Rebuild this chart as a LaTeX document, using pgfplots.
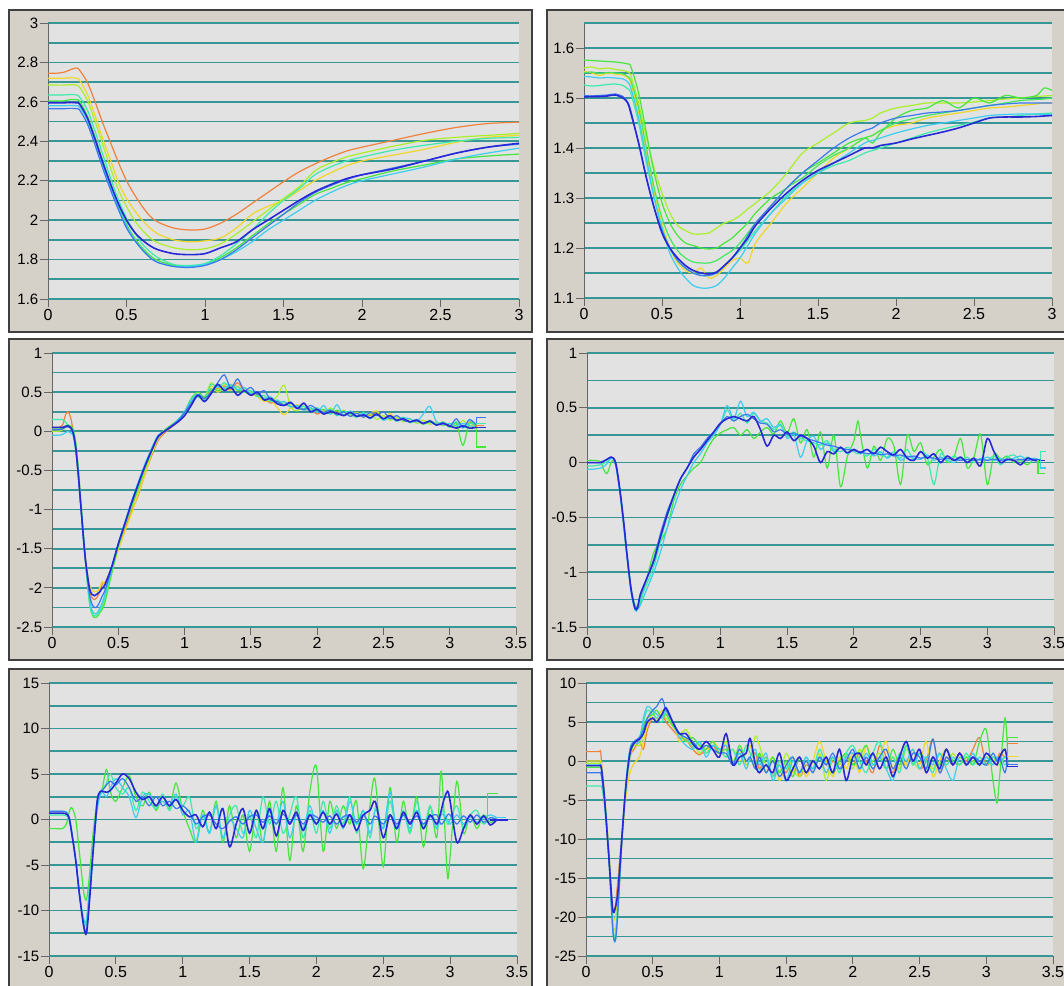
\documentclass[border=0pt]{standalone}
\usepackage{fontspec}
\setmainfont{Liberation Sans}
\usepackage{pgfplots}
\usepackage{pgfplotstable}
\pgfplotsset{compat=1.18}

\definecolor{cor}{RGB}{240,130,60}
\definecolor{cye}{RGB}{240,215,40}
\definecolor{cyg}{RGB}{170,240,40}
\definecolor{cgr}{RGB}{70,230,60}
\definecolor{caq}{RGB}{60,235,170}
\definecolor{ccy}{RGB}{60,205,240}
\definecolor{clb}{RGB}{60,120,240}
\definecolor{cbl}{RGB}{40,40,215}
\definecolor{gridc}{RGB}{55,150,150}
\definecolor{plotbg}{RGB}{226,226,226}
\definecolor{panelbg}{RGB}{213,209,201}

\pgfplotsset{
 panel/.style={
  scale only axis, anchor=south west,
  axis background/.style={fill=plotbg},
  axis x line*=bottom, axis y line*=left,
  axis line style={-},
  x axis line style={draw=gridc, line width=1.6pt},
  y axis line style={draw=black!60, line width=0.8pt},
  ymajorgrids, yminorgrids,
  major grid style={draw=gridc, line width=1.6pt},
  minor grid style={draw=gridc, line width=1.6pt},
  minor y tick num=1,
  tick align=outside,
  major tick length=8pt,
  minor tick length=0pt,
  tick style={draw=black!60, line width=0.8pt},
  yticklabel style={font=\fontsize{15}{15}\selectfont, inner sep=1.5pt},
  xticklabel style={font=\fontsize{16}{16}\selectfont, inner sep=2pt},
  /pgf/number format/assume math mode=true,
  every axis plot/.append style={line width=1.2pt, smooth, tension=0.5, no markers},
 }
}

% ---------- Panel 1 ----------
\pgfplotstableread{
x     or     ye     yg     aq     gr     bl     lb     cy
0     2.745  2.72   2.685  2.635  2.605  2.595  2.565  2.58
0.05  2.745  2.72   2.685  2.635  2.605  2.595  2.565  2.58
0.1   2.75   2.72   2.685  2.635  2.605  2.595  2.565  2.58
0.15  2.765  2.722  2.687  2.637  2.612  2.597  2.567  2.582
0.18  2.772  2.72   2.685  2.635  2.61   2.595  2.565  2.58
0.2   2.762  2.71   2.675  2.625  2.605  2.59   2.56   2.575
0.25  2.70   2.64   2.61   2.56   2.53   2.52   2.49   2.51
0.3   2.60   2.53   2.50   2.45   2.42   2.41   2.38   2.40
0.35  2.49   2.41   2.38   2.33   2.30   2.29   2.26   2.28
0.4   2.39   2.30   2.26   2.21   2.18   2.18   2.15   2.16
0.45  2.29   2.19   2.15   2.10   2.07   2.08   2.05   2.06
0.5   2.20   2.11   2.07   2.01   1.98   2.00   1.96   1.97
0.55  2.13   2.05   2.00   1.94   1.91   1.94   1.90   1.90
0.6   2.07   2.00   1.95   1.88   1.86   1.90   1.85   1.85
0.65  2.02   1.96   1.91   1.84   1.82   1.87   1.81   1.81
0.7   1.99   1.93   1.885  1.81   1.795  1.85   1.785  1.785
0.8   1.96   1.90   1.86   1.775  1.77   1.83   1.765  1.765
0.9   1.95   1.89   1.85   1.77   1.765  1.825  1.76   1.765
1.0   1.955  1.895  1.855  1.78   1.775  1.83   1.77   1.775
1.1   1.985  1.91   1.88   1.82   1.81   1.86   1.80   1.80
1.2   2.03   1.96   1.93   1.88   1.86   1.89   1.85   1.84
1.3   2.085  2.03   1.99   1.95   1.92   1.95   1.91   1.89
1.4   2.14   2.07   2.05   2.03   1.98   2.00   1.97   1.95
1.5   2.195  2.10   2.11   2.10   2.03   2.05   2.03   2.00
1.6   2.245  2.15   2.17   2.16   2.08   2.10   2.09   2.05
1.7   2.285  2.20   2.25   2.23   2.13   2.145  2.14   2.10
1.8   2.32   2.24   2.29   2.27   2.16   2.18   2.175  2.14
1.9   2.35   2.275  2.32   2.30   2.19   2.21   2.205  2.175
2.0   2.37   2.30   2.34   2.32   2.21   2.23   2.23   2.20
2.2   2.405  2.33   2.375  2.355  2.25   2.26   2.265  2.235
2.4   2.44   2.36   2.405  2.38   2.28   2.30   2.30   2.27
2.6   2.47   2.395  2.42   2.40   2.31   2.34   2.34   2.31
2.8   2.49   2.42   2.43   2.415  2.325  2.37   2.37   2.34
3.0   2.497  2.43   2.44   2.42   2.335  2.39   2.385  2.365
}\tabA

% ---------- Panel 2 ----------
\pgfplotstableread{
x     ye     yg     gr     gg     aq     cy     lb     bl
0     1.553  1.56   1.576  1.55   1.526  1.543  1.505  1.502
0.05  1.55   1.562  1.575  1.552  1.524  1.542  1.504  1.503
0.1   1.545  1.558  1.574  1.549  1.525  1.540  1.505  1.503
0.15  1.55   1.56   1.573  1.551  1.527  1.541  1.506  1.504
0.2   1.548  1.557  1.572  1.55   1.528  1.540  1.508  1.506
0.25  1.546  1.555  1.570  1.548  1.525  1.538  1.503  1.50
0.28  1.54   1.552  1.568  1.543  1.518  1.532  1.492  1.49
0.3   1.53   1.545  1.563  1.535  1.51   1.52   1.475  1.47
0.35  1.47   1.49   1.51   1.48   1.45   1.46   1.41   1.41
0.4   1.39   1.42   1.43   1.40   1.37   1.38   1.34   1.34
0.45  1.31   1.36   1.35   1.32   1.30   1.30   1.28   1.28
0.5   1.25   1.31   1.29   1.26   1.24   1.24   1.235  1.23
0.55  1.20   1.27   1.25   1.22   1.20   1.19   1.20   1.20
0.6   1.17   1.245  1.225  1.195  1.175  1.16   1.175  1.18
0.65  1.155  1.235  1.21   1.18   1.16   1.14   1.16   1.165
0.7   1.15   1.228  1.205  1.172  1.15   1.125  1.15   1.155
0.75  1.16   1.228  1.20   1.17   1.145  1.12   1.145  1.15
0.8   1.14   1.23   1.198  1.17   1.145  1.12   1.145  1.148
0.85  1.145  1.24   1.20   1.175  1.15   1.125  1.15   1.152
0.9   1.16   1.25   1.21   1.185  1.165  1.14   1.165  1.165
0.95  1.175  1.255  1.22   1.195  1.18   1.16   1.18   1.18
1.0   1.18   1.265  1.235  1.21   1.195  1.18   1.20   1.20
1.05  1.17   1.278  1.25   1.23   1.215  1.205  1.225  1.22
1.1   1.21   1.29   1.27   1.25   1.235  1.23   1.25   1.245
1.2   1.25   1.315  1.30   1.285  1.27   1.27   1.285  1.28
1.3   1.29   1.35   1.32   1.32   1.305  1.30   1.32   1.31
1.4   1.32   1.39   1.35   1.34   1.33   1.33   1.35   1.335
1.5   1.35   1.41   1.37   1.365  1.35   1.35   1.375  1.355
1.6   1.38   1.43   1.39   1.385  1.365  1.37   1.40   1.37
1.7   1.40   1.45   1.41   1.40   1.375  1.39   1.42   1.385
1.8   1.42   1.455  1.42   1.42   1.39   1.41   1.435  1.40
1.85  1.425  1.46   1.41   1.425  1.395  1.415  1.44   1.40
1.9   1.435  1.47   1.43   1.435  1.40   1.42   1.45   1.405
2.0   1.445  1.48   1.46   1.45   1.41   1.43   1.46   1.41
2.1   1.45   1.485  1.475  1.458  1.42   1.438  1.465  1.418
2.2   1.46   1.49   1.48   1.465  1.43   1.445  1.47   1.425
2.3   1.465  1.49   1.495  1.47   1.438  1.45   1.472  1.432
2.4   1.47   1.49   1.48   1.475  1.445  1.455  1.475  1.44
2.5   1.475  1.492  1.50   1.48   1.452  1.46   1.48   1.45
2.6   1.48   1.495  1.49   1.485  1.46   1.465  1.485  1.46
2.7   1.482  1.498  1.505  1.49   1.462  1.467  1.488  1.462
2.8   1.485  1.50   1.50   1.495  1.465  1.468  1.49   1.462
2.9   1.488  1.503  1.505  1.497  1.468  1.468  1.49   1.463
2.95  1.49   1.504  1.52   1.498  1.469  1.467  1.49   1.464
3.0   1.49   1.505  1.515  1.50   1.47   1.467  1.49   1.465
}\tabB

% ---------- Panel 3 ----------
\pgfplotstableread{
x     or     ye     yg     gr     aq     cy     lb     bl
0     0.05   0.02   0.0    0.03   0.15   -0.05  0.02   0.05
0.05  0.05   0.02   0.0    0.03   0.15   -0.05  0.02   0.05
0.08  0.08   0.03   0.02   0.04   0.15   -0.04  0.03   0.05
0.1   0.2    0.05   0.05   0.07   0.12   -0.02  0.05   0.06
0.12  0.25   0.06   0.08   0.08   0.08   0.0    0.06   0.07
0.14  0.18   0.04   0.06   0.07   0.04   -0.02  0.04   0.05
0.16  0.0    -0.02  0.0    0.02   -0.02  -0.06  -0.03  -0.02
0.18  -0.25  -0.25  -0.2   -0.15  -0.2   -0.25  -0.25  -0.22
0.2   -0.6   -0.6   -0.55  -0.5   -0.55  -0.6   -0.6   -0.58
0.22  -1.0   -1.0   -0.95  -0.95  -1.0   -1.0   -1.02  -1.0
0.25  -1.6   -1.58  -1.6   -1.6   -1.62  -1.62  -1.62  -1.6
0.28  -2.0   -1.95  -2.1   -2.15  -2.15  -2.1   -2.05  -1.98
0.3   -2.12  -2.02  -2.28  -2.33  -2.32  -2.28  -2.2   -2.08
0.32  -2.15  -2.05  -2.33  -2.38  -2.36  -2.33  -2.25  -2.1
0.34  -2.12  -2.05  -2.33  -2.37  -2.35  -2.32  -2.24  -2.08
0.36  -2.05  -2.0   -2.3   -2.32  -2.3   -2.26  -2.18  -2.05
0.38  -1.95  -1.92  -2.25  -2.27  -2.22  -2.18  -2.1   -2.0
0.4   -1.93  -1.95  -2.15  -2.18  -2.12  -2.08  -2.03  -1.96
0.45  -1.75  -1.78  -1.8   -1.82  -1.76  -1.75  -1.75  -1.73
0.5   -1.5   -1.52  -1.48  -1.47  -1.45  -1.43  -1.44  -1.44
0.55  -1.25  -1.28  -1.2   -1.2   -1.18  -1.16  -1.17  -1.18
0.6   -1.02  -1.05  -0.97  -0.96  -0.93  -0.9   -0.9   -0.92
0.65  -0.82  -0.8   -0.75  -0.73  -0.7   -0.65  -0.67  -0.68
0.7   -0.55  -0.56  -0.5   -0.48  -0.45  -0.42  -0.45  -0.45
0.75  -0.32  -0.3   -0.28  -0.27  -0.25  -0.22  -0.25  -0.25
0.8   -0.12  -0.1   -0.08  -0.07  -0.08  -0.05  -0.06  -0.07
0.85  -0.02  0.0    0.01   0.02   0.01   0.0    0.0    0.0
0.9   0.05   0.06   0.08   0.08   0.07   0.07   0.07   0.06
0.95  0.12   0.13   0.15   0.14   0.14   0.15   0.13   0.12
1.0   0.2    0.22   0.22   0.25   0.22   0.25   0.24   0.2
1.05  0.36   0.38   0.40   0.42   0.37   0.40   0.36   0.33
1.1   0.47   0.45   0.46   0.50   0.44   0.47   0.47   0.46
1.15  0.42   0.40   0.43   0.44   0.40   0.38   0.42   0.38
1.2   0.52   0.58   0.62   0.54   0.60   0.50   0.50   0.48
1.25  0.55   0.50   0.52   0.52   0.56   0.58   0.62   0.60
1.3   0.58   0.55   0.60   0.54   0.62   0.55   0.72   0.52
1.35  0.53   0.52   0.56   0.58   0.55   0.60   0.55   0.56
1.4   0.62   0.58   0.52   0.53   0.57   0.53   0.67   0.46
1.45  0.52   0.50   0.56   0.50   0.50   0.56   0.52   0.52
1.5   0.46   0.48   0.50   0.47   0.52   0.48   0.56   0.46
1.55  0.46   0.44   0.45   0.48   0.44   0.50   0.47   0.50
1.6   0.42   0.38   0.43   0.40   0.46   0.42   0.52   0.40
1.65  0.36   0.40   0.38   0.42   0.38   0.44   0.40   0.42
1.7   0.38   0.30   0.45   0.36   0.40   0.36   0.38   0.35
1.75  0.34   0.21   0.59   0.38   0.34   0.38   0.33   0.33
1.8   0.32   0.30   0.32   0.31   0.36   0.31   0.36   0.37
1.85  0.30   0.34   0.26   0.33   0.30   0.33   0.30   0.29
1.9   0.27   0.28   0.35   0.28   0.32   0.27   0.28   0.36
1.95  0.28   0.30   0.27   0.30   0.26   0.30   0.33   0.25
2.0   0.22   0.26   0.30   0.26   0.30   0.24   0.28   0.28
2.05  0.26   0.25   0.22   0.28   0.24   0.33   0.24   0.22
2.1   0.24   0.27   0.30   0.22   0.28   0.22   0.27   0.25
2.15  0.26   0.22   0.22   0.27   0.20   0.34   0.21   0.23
2.2   0.21   0.25   0.27   0.21   0.26   0.20   0.25   0.20
2.25  0.24   0.20   0.20   0.24   0.22   0.26   0.19   0.24
2.3   0.19   0.24   0.24   0.19   0.18   0.19   0.23   0.19
2.35  0.22   0.18   0.18   0.23   0.24   0.23   0.18   0.21
2.4   0.20   0.23   0.22   0.17   0.17   0.16   0.24   0.17
2.45  0.23   0.26   0.15   0.22   0.21   0.22   0.20   0.22
2.5   0.16   0.16   0.20   0.16   0.15   0.14   0.25   0.16
2.55  0.20   0.23   0.14   0.19   0.19   0.18   0.16   0.20
2.6   0.15   0.14   0.18   0.13   0.14   0.13   0.20   0.14
2.65  0.17   0.18   0.12   0.17   0.18   0.17   0.14   0.16
2.7   0.12   0.12   0.16   0.11   0.11   0.16   0.12   0.12
2.75  0.15   0.15   0.10   0.14   0.15   0.12   0.15   0.14
2.8   0.10   0.11   0.14   0.09   0.10   0.22   0.10   0.10
2.85  0.13   0.14   0.09   0.12   0.14   0.32   0.13   0.13
2.9   0.09   0.09   0.12   0.08   0.09   0.12   0.08   0.08
2.95  0.11   0.12   0.07   0.11   0.12   0.08   0.11   0.10
3.0   0.07   0.07   0.10   0.05   0.07   0.10   0.06   0.07
3.05  0.12   0.09   0.05   0.10   0.12   0.07   0.16   0.04
3.1   0.05   0.05   0.14   -0.18  0.04   0.10   0.05   0.07
3.15  0.11   0.08   0.05   0.12   0.10   0.07   0.15   0.04
3.2   0.06   0.06   0.08   0.05   0.08   0.06   0.08   0.05
}\tabC

% ---------- Panel 4 ----------
\pgfplotstableread{
x     gr     aq     cy     lb     bl
0     0.02   -0.03  -0.06  0.0    0.0
0.05  0.02   -0.03  -0.06  0.0    0.0
0.1   0.01   -0.02  -0.05  0.0    0.0
0.12  -0.05  -0.01  -0.04  0.01   0.01
0.15  -0.1   0.01   -0.01  0.03   0.03
0.18  0.0    0.04   0.04   0.05   0.05
0.2   0.02   0.03   0.03   0.03   0.04
0.22  -0.05  -0.05  -0.05  -0.05  -0.03
0.25  -0.3   -0.28  -0.3   -0.3   -0.28
0.28  -0.65  -0.6   -0.62  -0.62  -0.6
0.3   -0.85  -0.85  -0.86  -0.86  -0.84
0.33  -1.15  -1.15  -1.18  -1.17  -1.15
0.36  -1.3   -1.32  -1.35  -1.33  -1.33
0.38  -1.33  -1.32  -1.34  -1.3   -1.32
0.4   -1.28  -1.25  -1.3   -1.22  -1.2
0.45  -1.05  -1.1   -1.15  -1.05  -1.05
0.5   -0.82  -0.95  -1.0   -0.88  -0.9
0.55  -0.72  -0.72  -0.82  -0.65  -0.68
0.6   -0.6   -0.5   -0.6   -0.45  -0.48
0.65  -0.35  -0.32  -0.42  -0.3   -0.3
0.7   -0.2   -0.15  -0.25  -0.15  -0.15
0.75  -0.12  -0.05  -0.12  -0.05  -0.05
0.8   -0.05  0.05   0.0    0.08   0.05
0.85  0.0    0.12   0.08   0.14   0.12
0.9   0.12   0.2    0.18   0.22   0.2
0.95  0.22   0.27   0.25   0.28   0.28
1.0   0.27   0.35   0.35   0.35   0.36
1.05  0.30   0.48   0.52   0.42   0.40
1.1   0.32   0.38   0.40   0.38   0.42
1.15  0.25   0.45   0.56   0.42   0.40
1.2   0.30   0.36   0.42   0.44   0.38
1.25  0.22   0.45   0.46   0.40   0.42
1.3   0.28   0.38   0.38   0.36   0.30
1.35  0.32   0.36   0.40   0.35   0.15
1.4   0.26   0.30   0.32   0.28   0.25
1.45  0.38   0.34   0.35   0.30   0.22
1.5   0.27   0.24   0.22   0.26   0.28
1.55  0.40   0.28   0.26   0.27   0.20
1.6   0.18   0.22   0.05   0.24   0.25
1.65  0.30   0.20   0.20   0.22   0.22
1.7   0.05   0.18   0.24   0.20   0.15
1.75  0.28   0.16   0.12   0.18   0.0
1.8   -0.05  0.20   0.18   0.16   0.10
1.85  0.25   0.12   0.10   0.15   0.08
1.9   -0.22  0.10   0.14   0.13   0.14
1.95  0.05   0.14   0.08   0.12   0.09
2.0   0.20   0.10   0.12   0.11   0.12
2.03  0.38   0.08   0.10   0.10   0.10
2.05  0.25   0.10   0.08   0.10   0.09
2.1   -0.05  0.06   0.12   0.08   0.12
2.15  0.15   0.12   0.06   0.09   0.08
2.2   0.02   0.08   0.10   0.07   0.14
2.25  0.22   0.05   0.04   0.08   0.10
2.3   0.15   0.10   0.08   0.06   0.07
2.35  -0.20  0.04   0.02   0.07   0.12
2.4   0.25   0.12   0.06   0.05   0.04
2.45  0.10   0.02   0.04   0.06   0.02
2.5   0.18   0.10   0.03   0.04   0.10
2.55  -0.02  0.05   0.07   0.05   0.04
2.6   0.05   -0.20  0.02   0.04   0.08
2.65  0.12   0.08   0.05   0.03   0.0
2.7   0.00   0.02   0.02   0.04   0.06
2.75  0.05   0.06   0.0    0.03   0.02
2.8   0.22   0.02   0.04   0.02   0.05
2.85  -0.05  0.05   0.01   0.03   0.0
2.9   0.05   0.0    0.04   0.02   0.04
2.95  0.26   0.04   0.02   0.03   -0.03
3.0   -0.20  0.02   0.05   0.02   0.22
3.05  0.08   0.06   0.02   0.03   0.10
3.1   0.03   -0.02  0.04   0.02   0.0
3.15  0.06   0.05   0.02   0.03   0.03
3.2   0.0    0.07   0.04   0.02   0.02
3.25  0.02   0.02   0.06   0.03   -0.02
3.3   -0.02  0.05   0.02   0.02   0.04
3.35  0.03   0.02   0.04   0.03   0.02
3.4   0.02   0.03   0.02   0.02   0.02
}\tabD

% ---------- Panel 5 ----------
\pgfplotstableread{
x     gr     aq     cy     lb     bl
0     -1.0   0.5    0.9    0.9    0.7
0.05  -1.0   0.5    0.9    0.9    0.7
0.1   -1.0   0.5    0.9    0.9    0.7
0.13  -0.5   0.4    0.8    0.8    0.6
0.15  0.8    0.0    0.3    0.2    0.2
0.17  1.3    -1.5   -1.2   -1.5   -1.5
0.2   0.0    -4.5   -4.5   -4.5   -4.5
0.23  -4.0   -8.5   -8.5   -8.5   -8.5
0.26  -8.0   -11.0  -11.0  -11.5  -11.8
0.28  -8.8   -11.5  -11.0  -12.3  -12.5
0.3   -6.5   -8.0   -8.0   -9.0   -9.5
0.33  -1.5   -3.0   -3.0   -3.5   -3.5
0.36  2.0    1.5    1.0    1.5    2.0
0.38  2.8    3.0    2.5    3.0    3.0
0.4   3.5    3.3    3.0    3.2    3.1
0.43  5.5    4.0    2.5    3.8    3.0
0.46  3.0    5.0    3.5    4.2    3.2
0.5   2.0    3.5    4.5    3.8    4.0
0.55  3.5    2.8    3.5    4.5    5.0
0.6   4.8    3.5    2.5    3.5    4.5
0.65  2.5    1.0    0.2    2.0    3.0
0.7   1.5    3.0    2.5    2.5    2.2
0.75  3.0    2.0    2.8    1.5    2.5
0.8   1.0    1.2    1.5    2.5    1.5
0.85  2.5    2.8    2.0    1.5    2.5
0.9   1.2    1.0    1.5    2.0    1.5
0.95  4.0    2.5    2.8    1.2    2.2
1.0   1.0    1.5    0.5    1.5    1.0
1.05  -1.0   2.5    1.0    0.8    0.3
1.1   -2.5   -1.0   -2.5   -0.5   0.5
1.15  1.0    0.5    0.5    0.3    -0.8
1.2   -1.5   -1.5   -1.5   0.5    0.8
1.25  2.0    1.5    1.5    -0.5   -1.0
1.3   -2.5   -2.0   -2.0   -1.0   1.2
1.35  1.5    0.5    0.0    -0.2   -3.0
1.4   -2.0   1.5    -1.0   0.3    -0.5
1.45  0.5    -1.5   -2.0   -0.5   1.2
1.5   -3.5   0.5    1.0    0.3    -1.5
1.55  1.0    -2.0   -1.0   0.5    1.0
1.6   -2.5   2.5    -2.5   -0.3   -1.0
1.65  2.0    -0.5   1.0    0.4    1.2
1.7   -3.5   2.0    -0.5   -0.5   -1.8
1.75  3.5    -1.5   2.0    0.6    1.0
1.8   -4.5   0.5    -2.0   -0.3   -0.5
1.85  1.5    2.5    0.5    0.5    0.8
1.9   -3.5   -2.0   -1.0   -0.5   -1.2
1.95  3.0    1.0    1.5    0.5    0.5
2.0   5.8    -1.5   -0.5   0.3    -0.5
2.05  -3.5   2.0    1.0    -0.3   0.8
2.1   2.0    -1.0   -1.5   0.4    -0.5
2.15  -1.0   1.5    1.0    -0.5   0.6
2.2   1.5    -0.5   -1.0   0.3    -0.8
2.25  -0.5   2.5    2.0    0.5    0.5
2.3   2.0    -1.5   -0.5   -0.3   -1.2
2.35  -5.4   1.0    1.0    0.5    0.5
2.4   1.5    -2.0   -1.5   -0.5   1.0
2.43  4.5    0.5    0.5    0.3    2.0
2.45  3.0    1.5    1.0    0.3    1.5
2.5   -5.2   -1.0   -1.0   -0.5   -2.0
2.55  3.5    2.0    3.0    0.5    0.5
2.6   -2.5   -1.0   -1.0   -0.5   -1.0
2.65  2.0    1.0    0.5    0.5    0.8
2.7   -1.5   -1.5   -1.0   -0.3   -0.5
2.75  2.5    2.0    1.0    0.4    0.8
2.8   -3.0   -1.0   -0.5   -0.5   -1.0
2.85  1.5    1.5    0.5    0.3    0.5
2.9   -2.0   -1.0   -1.0   0.5    -0.5
2.93  5.2    0.5    0.5    -0.5   0.8
2.95  2.0    1.0    0.5    -0.3   2.0
2.98  -6.3   -0.5   0.0    0.5    3.1
3.0   -4.0   0.0    -0.5   0.5    2.0
3.05  4.2    1.5    0.5    -0.5   -2.5
3.1   -1.5   -1.0   -0.5   0.4    -1.0
3.15  0.5    0.5    0.3    -0.3   0.5
3.2   -1.0   1.0    -0.3   0.5    -0.5
3.25  0.5    -0.5   0.2    -0.3   0.4
3.3   -0.3   0.2    0.5    0.2    -0.6
3.35  0.0    0.0    0.2    0.0    0.0
}\tabE

% ---------- Panel 6 ----------
\pgfplotstableread{
x     or     ye     yg     gr     aq     cy     lb     bl
0     1.2    0.0    -0.3   -0.8   -3.2   -0.5   -1.5   -0.6
0.05  1.2    0.0    -0.3   -0.8   -3.2   -0.5   -1.5   -0.6
0.1   1.2    0.0    -0.3   -0.8   -3.2   -0.5   -1.5   -0.6
0.11  1.2    0.0    -0.3   -0.8   -3.2   -0.5   -1.5   -0.6
0.12  -1.0   -1.0   -1.5   -1.5   -3.5   -1.5   -2.5   -1.5
0.14  -5.0   -4.5   -5.0   -5.0   -6.0   -5.0   -5.5   -5.0
0.17  -12.0  -11.0  -11.5  -11.5  -12.0  -12.0  -12.0  -12.0
0.2   -19.0  -19.5  -20.5  -21.0  -21.0  -21.5  -21.5  -19.0
0.22  -18.5  -20.0  -21.5  -23.0  -22.5  -23.0  -23.0  -18.8
0.24  -15.0  -16.0  -18.0  -19.0  -18.0  -18.0  -19.0  -16.5
0.27  -9.5   -10.0  -10.0  -10.0  -9.5   -9.5   -10.0  -9.5
0.3   -3.5   -4.5   -3.5   -3.0   -3.0   -2.5   -3.0   -3.0
0.33  0.5    -1.5   0.5    1.0    1.5    1.5    1.5    1.0
0.36  1.5    -0.3   2.0    2.2    2.5    2.3    2.5    2.3
0.4   2.5    0.5    2.0    3.0    3.0    2.5    3.0    2.8
0.43  1.5    2.5    3.5    4.5    5.0    5.5    4.0    3.5
0.46  4.0    4.5    5.5    5.5    6.5    7.0    5.5    5.0
0.5   5.5    6.0    6.5    6.0    6.0    6.5    6.5    5.5
0.53  5.0    5.5    5.0    6.5    5.5    6.0    7.0    5.0
0.57  6.0    6.5    6.0    5.5    5.0    5.5    8.0    6.0
0.6   5.0    6.0    5.5    6.0    6.5    6.8    6.5    6.8
0.65  4.0    5.0    4.5    4.5    5.0    5.0    5.0    5.0
0.7   3.0    2.5    3.5    3.5    3.5    3.0    3.5    3.5
0.75  2.8    3.0    4.0    2.5    3.0    2.0    3.0    3.5
0.8   1.5    2.0    2.5    3.0    1.8    1.5    2.5    2.2
0.85  0.8    2.0    1.0    2.0    2.5    2.5    1.5    1.5
0.9   1.5    1.0    2.0    1.5    1.0    0.5    2.0    2.5
0.95  2.0    2.5    1.5    2.5    2.0    2.0    1.5    1.5
1.0   1.0    1.5    1.0    1.0    1.5    1.5    1.0    0.5
1.05  2.0    0.5    2.5    1.5    0.5    2.0    1.0    3.5
1.1   -0.5   1.5    0.0    -0.5   1.5    -0.5   -0.5   -0.5
1.15  1.5    0.0    1.5    2.0    -0.5   1.0    1.5    0.5
1.2   -0.5   1.0    -0.5   0.0    2.0    -1.0   0.0    1.0
1.23  0.5    2.0    0.5    0.5    1.0    0.5    0.5    2.9
1.27  1.0    -0.5   3.2    -1.0   0.0    1.5    -1.0   -0.5
1.3   -1.0   1.0    2.0    1.0    -1.5   -0.5   0.5    -1.5
1.35  0.5    -1.5   -0.5   -1.5   0.5    1.0    -1.5   -0.5
1.4   -2.0   0.5    0.5    0.5    -2.0   -2.5   0.0    -1.5
1.45  0.0    -2.5   -1.5   -1.5   0.0    -0.5   -2.0   1.0
1.5   -1.5   -0.5   1.0    0.0    -1.0   -2.5   -0.5   -2.5
1.55  0.5    -1.5   -1.0   -2.0   0.5    0.0    0.5    -1.0
1.6   -2.0   0.5    -2.0   0.5    -1.5   -1.5   -1.5   0.5
1.65  -0.5   -2.0   0.0    -1.5   0.5    0.5    0.0    -1.5
1.7   -1.0   0.0    -1.5   0.0    -1.0   -1.0   -1.5   0.0
1.75  0.5    2.5    1.0    -1.0   1.5    0.5    0.5    -1.0
1.8   -1.5   0.0    -2.5   0.5    -0.5   -1.5   -0.5   0.5
1.85  0.0    -2.0   0.5    -1.5   0.5    0.5    1.0    -1.5
1.9   -1.0   0.5    -0.5   0.0    -1.5   -1.0   -1.0   1.5
1.95  0.5    -1.0   1.0    1.0    1.0    0.5    0.0    -2.5
2.0   -0.5   1.0    -1.0   -0.5   2.0    1.0    1.5    0.5
2.05  1.0    -1.5   1.5    0.5    0.0    -1.0   -1.0   1.0
2.1   0.0    2.0    -0.5   2.0    -1.5   1.0    0.5    -0.5
2.15  -1.5   -0.5   0.0    -0.5   1.0    -0.5   -1.0   1.0
2.2   2.0    0.5    1.0    0.5    2.5    0.5    0.5    -1.0
2.25  0.5    2.5    -1.0   -1.0   -1.0   -1.0   1.5    0.5
2.3   -1.5   -1.0   0.5    1.5    0.5    -2.5   -1.0   -2.0
2.35  0.5    1.0    -1.0   -0.5   -1.5   1.0    0.5    0.5
2.4   -0.5   -0.5   1.5    2.0    2.0    0.0    -1.0   2.5
2.45  1.5    1.5    0.0    -0.5   -0.5   1.5    1.0    0.0
2.5   -1.0   -0.5   -1.0   1.0    1.0    -1.0   0.5    1.5
2.55  0.0    2.5    0.5    -1.0   0.0    0.5    -1.0   -1.5
2.6   2.8    -2.0   -1.0   0.5    -1.5   -0.5   2.8    0.5
2.65  -1.5   0.0    1.0    -0.5   1.0    1.0    -1.5   -1.0
2.7   0.5    1.5    -0.5   1.5    -0.5   -1.0   0.5    1.5
2.75  -0.5   -0.5   1.0    0.0    0.5    -2.5   -0.5   -0.5
2.8   1.0    0.5    -0.5   -0.5   -0.5   0.5    1.0    1.0
2.85  0.0    -0.5   0.5    0.5    1.0    -0.5   -0.5   -0.5
2.9   1.5    0.5    0.0    -0.5   -0.5   1.0    0.5    0.5
2.95  3.0    -0.5   -0.5   2.5    0.5    -0.5   0.0    -0.5
3.0   -0.5   1.0    0.5    4.0    -0.5   0.5    -0.5   1.0
3.05  0.5    0.0    0.0    -2.5   0.5    -0.5   1.0    0.0
3.08  0.0    0.5    0.5    -5.4   0.0    0.5    0.0    -0.5
3.1   1.0    0.0    -0.5   -2.0   0.5    0.0    0.5    0.5
3.14  0.5    0.5    0.5    5.5    -0.5   0.5    -1.5   1.5
3.16  0.5    0.3    0.3    1.0    0.3    0.3    0.5    -0.5
}\tabF

\begin{document}
\begin{tikzpicture}
\useasboundingbox (0pt,0pt) rectangle (1064pt,985pt);
\begin{scope}
\clip (0pt,0pt) rectangle (1064pt,985pt);
\fill[white] (0pt,0pt) rectangle (1064pt,985pt);
% panel boxes
\filldraw[fill=panelbg, draw=black!75, line width=1.3pt] (9pt,653pt) rectangle (532pt,975pt);
\filldraw[fill=panelbg, draw=black!75, line width=1.3pt] (547pt,653pt) rectangle (1090pt,975pt);
\filldraw[fill=panelbg, draw=black!75, line width=1.3pt] (9pt,325pt) rectangle (532pt,646pt);
\filldraw[fill=panelbg, draw=black!75, line width=1.3pt] (547pt,325pt) rectangle (1090pt,646pt);
\filldraw[fill=panelbg, draw=black!75, line width=1.3pt] (9pt,-20pt) rectangle (532pt,316pt);
\filldraw[fill=panelbg, draw=black!75, line width=1.3pt] (547pt,-20pt) rectangle (1090pt,316pt);

% ===== Panel 1 =====
\begin{axis}[panel, at={(48pt,686pt)}, width=471pt, height=276pt,
  xmin=0, xmax=3, ymin=1.6, ymax=3,
  xtick={0,0.5,1,1.5,2,2.5,3},
  ytick={1.6,1.8,2,2.2,2.4,2.6,2.8,3}]
\addplot[cor] table[x=x,y=or]{\tabA};
\addplot[cye] table[x=x,y=ye]{\tabA};
\addplot[cyg] table[x=x,y=yg]{\tabA};
\addplot[cgr] table[x=x,y=gr]{\tabA};
\addplot[caq] table[x=x,y=aq]{\tabA};
\addplot[ccy] table[x=x,y=cy]{\tabA};
\addplot[clb] table[x=x,y=lb]{\tabA};
\addplot[cbl, line width=1.6pt] table[x=x,y=bl]{\tabA};
\end{axis}

% ===== Panel 2 =====
\begin{axis}[panel, at={(584pt,687pt)}, width=468pt, height=275pt,
  xmin=0, xmax=3, ymin=1.1, ymax=1.65,
  xtick={0,0.5,1,1.5,2,2.5,3},
  ytick={1.1,1.2,1.3,1.4,1.5,1.6},
  extra y ticks={1.65}, extra y tick labels={},
  extra y tick style={major tick length=0pt, grid=major}]
\addplot[cye] table[x=x,y=ye]{\tabB};
\addplot[cyg] table[x=x,y=yg]{\tabB};
\addplot[cgr] table[x=x,y=gr]{\tabB};
\addplot[cgr!70!caq] table[x=x,y=gg]{\tabB};
\addplot[caq] table[x=x,y=aq]{\tabB};
\addplot[ccy] table[x=x,y=cy]{\tabB};
\addplot[clb] table[x=x,y=lb]{\tabB};
\addplot[cbl, line width=1.6pt] table[x=x,y=bl]{\tabB};
\end{axis}

% ===== Panel 3 =====
\begin{axis}[panel, at={(52pt,358pt)}, width=464pt, height=274pt,
  xmin=0, xmax=3.5, ymin=-2.5, ymax=1,
  xtick={0,0.5,1,1.5,2,2.5,3,3.5},
  ytick={-2.5,-2,-1.5,-1,-0.5,0,0.5,1}]
\addplot[cor] table[x=x,y=or]{\tabC};
\addplot[cye] table[x=x,y=ye]{\tabC};
\addplot[cyg] table[x=x,y=yg]{\tabC};
\addplot[cgr] table[x=x,y=gr]{\tabC};
\addplot[caq] table[x=x,y=aq]{\tabC};
\addplot[ccy] table[x=x,y=cy]{\tabC};
\addplot[clb] table[x=x,y=lb]{\tabC};
\addplot[cbl, line width=1.6pt] table[x=x,y=bl]{\tabC};
\addplot[clb, sharp plot] coordinates {(3.2,0.08) (3.2,0.18) (3.27,0.18)};
\addplot[cgr, sharp plot] coordinates {(3.2,0.05) (3.2,-0.2) (3.27,-0.2)};
\addplot[caq, sharp plot] coordinates {(3.2,0.08) (3.2,0.1) (3.27,0.1)};
\addplot[cor, sharp plot] coordinates {(3.2,0.06) (3.2,0.07) (3.26,0.07)};
\addplot[cbl, sharp plot, line width=1.6pt] coordinates {(3.2,0.05) (3.27,0.05)};
\end{axis}

% ===== Panel 4 =====
\begin{axis}[panel, at={(587pt,358pt)}, width=467pt, height=274pt,
  xmin=0, xmax=3.5, ymin=-1.5, ymax=1,
  xtick={0,0.5,1,1.5,2,2.5,3,3.5},
  ytick={-1.5,-1,-0.5,0,0.5,1}]
\addplot[cgr] table[x=x,y=gr]{\tabD};
\addplot[caq] table[x=x,y=aq]{\tabD};
\addplot[ccy] table[x=x,y=cy]{\tabD};
\addplot[clb] table[x=x,y=lb]{\tabD};
\addplot[cbl, line width=1.6pt] table[x=x,y=bl]{\tabD};
\addplot[caq, sharp plot] coordinates {(3.4,0.03) (3.4,0.1) (3.44,0.1)};
\addplot[ccy, sharp plot] coordinates {(3.4,0.02) (3.4,-0.05) (3.44,-0.05)};
\addplot[cgr, sharp plot] coordinates {(3.38,0.02) (3.38,-0.1) (3.43,-0.1)};
\addplot[cbl, sharp plot, line width=1.6pt] coordinates {(3.4,0.02) (3.43,0.02)};
\end{axis}

% ===== Panel 5 =====
\begin{axis}[panel, at={(49pt,29pt)}, width=468pt, height=273pt,
  xmin=0, xmax=3.5, ymin=-15, ymax=15,
  xtick={0,0.5,1,1.5,2,2.5,3,3.5},
  ytick={-15,-10,-5,0,5,10,15}]
\addplot[cgr] table[x=x,y=gr]{\tabE};
\addplot[caq] table[x=x,y=aq]{\tabE};
\addplot[ccy] table[x=x,y=cy]{\tabE};
\addplot[clb] table[x=x,y=lb]{\tabE};
\addplot[cbl, line width=1.6pt] table[x=x,y=bl]{\tabE};
\addplot[cgr, sharp plot] coordinates {(3.28,0) (3.28,2.9) (3.36,2.9)};
\addplot[ccy, sharp plot] coordinates {(3.35,0.2) (3.42,0.2)};
\addplot[cbl, sharp plot, line width=2pt] coordinates {(3.3,0) (3.43,0)};
\end{axis}

% ===== Panel 6 =====
\begin{axis}[panel, at={(586pt,29pt)}, width=467pt, height=273pt,
  xmin=0, xmax=3.5, ymin=-25, ymax=10,
  xtick={0,0.5,1,1.5,2,2.5,3,3.5},
  ytick={-25,-20,-15,-10,-5,0,5,10}]
\addplot[cor] table[x=x,y=or]{\tabF};
\addplot[cye] table[x=x,y=ye]{\tabF};
\addplot[cyg] table[x=x,y=yg]{\tabF};
\addplot[cgr] table[x=x,y=gr]{\tabF};
\addplot[caq] table[x=x,y=aq]{\tabF};
\addplot[ccy] table[x=x,y=cy]{\tabF};
\addplot[clb] table[x=x,y=lb]{\tabF};
\addplot[cbl, line width=1.6pt] table[x=x,y=bl]{\tabF};
\addplot[cgr, sharp plot] coordinates {(3.16,1.0) (3.16,3.0) (3.24,3.0)};
\addplot[cor, sharp plot] coordinates {(3.16,0.5) (3.16,2.2) (3.24,2.2)};
\addplot[cye, sharp plot] coordinates {(3.16,0.3) (3.16,0.6) (3.24,0.6)};
\addplot[clb, sharp plot] coordinates {(3.16,0.5) (3.16,-0.4) (3.24,-0.4)};
\addplot[cbl, sharp plot, line width=1.6pt] coordinates {(3.16,-0.5) (3.16,-0.7) (3.24,-0.7)};
\end{axis}
\end{scope}
\end{tikzpicture}
\end{document}
